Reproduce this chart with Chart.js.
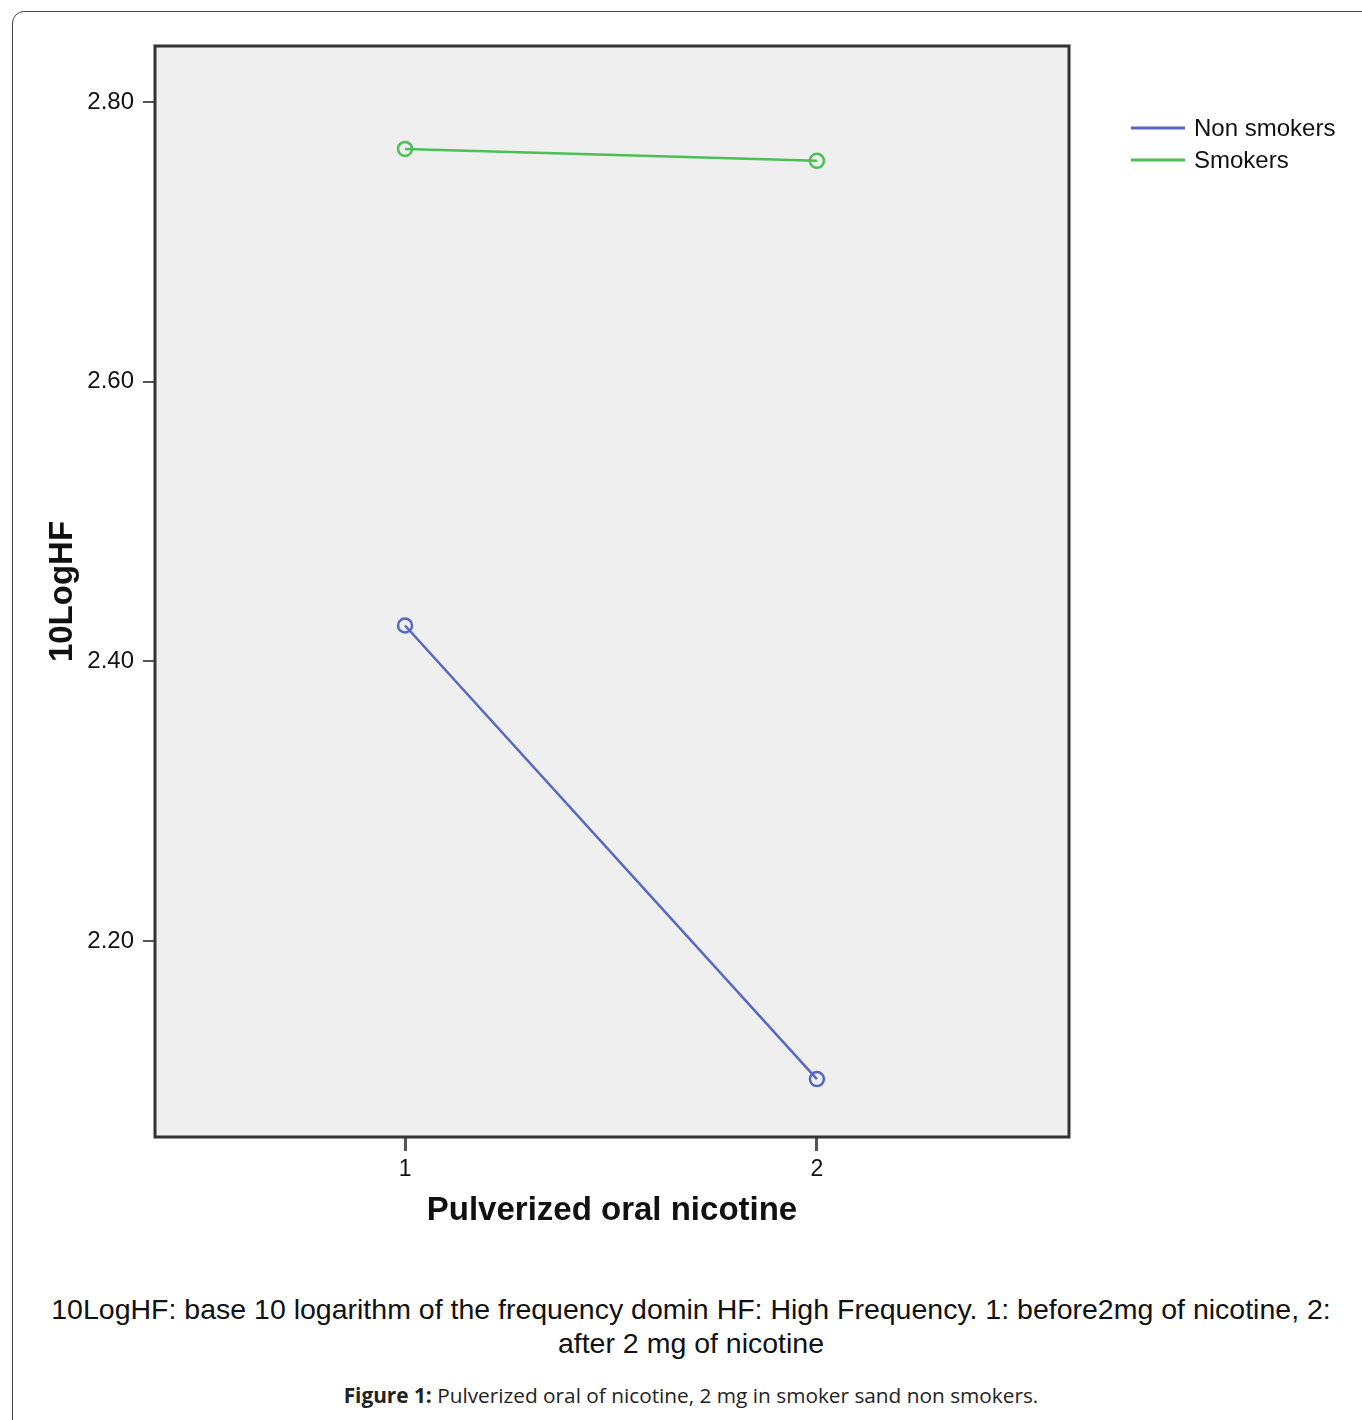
<!DOCTYPE html>
<html>
<head>
<meta charset="utf-8">
<script src="https://cdn.jsdelivr.net/npm/chart.js@4.4.1/dist/chart.umd.min.js"></script>
<style>
  html, body { margin: 0; padding: 0; background: #fff; }
  body { width: 1362px; height: 1420px; position: relative; overflow: hidden; }
  .frame {
    position: absolute; left: 12px; top: 11px; width: 1380px; height: 1440px;
    border: 1.5px solid #444; border-radius: 12px;
  }
  #chartWrap { position: absolute; left: 0; top: 0; width: 1362px; height: 1260px; }
  .note {
    position: absolute; left: 40px; width: 1302px; top: 1292px;
    font-family: "Liberation Sans", Arial, sans-serif; font-size: 28.5px; line-height: 34px;
    text-align: center; color: #111;
  }
  .caption {
    position: absolute; left: 20px; width: 1342px; top: 1381px;
    font-family: "Open Sans", sans-serif; font-size: 20.8px; text-align: center; color: #222;
  }
</style>
</head>
<body>
<div class="frame"></div>
<div id="chartWrap"><canvas id="myChart" width="1362" height="1260"></canvas></div>
<div class="note">10LogHF: base 10 logarithm of the frequency domin HF: High Frequency. 1: before2mg of nicotine, 2: after 2 mg of nicotine</div>
<div class="caption"><b>Figure 1:</b> Pulverized oral of nicotine, 2 mg in smoker sand non smokers.</div>

<script>
// data
const categories = [1, 2];
const nonSmokers = [2.4257, 2.1014];
const smokers = [2.7664, 2.7579];
const yTicks = [2.2, 2.4, 2.6, 2.8];
const seriesNames = ["Non smokers", "Smokers"];

const BLUE = "#5468c0";
const GREEN = "#4cbf55";
const FONT = "'Liberation Sans', Arial, sans-serif";

const toPoints = (vals) => vals.map((v, i) => ({ x: categories[i], y: v }));

// grey plot background + dark frame
const plotFrame = {
  id: "plotFrame",
  beforeDatasetsDraw(chart) {
    const { ctx, chartArea: a } = chart;
    ctx.save();
    ctx.fillStyle = "#efefef";
    ctx.fillRect(a.left, a.top, a.right - a.left, a.bottom - a.top);
    ctx.strokeStyle = "#333";
    ctx.lineWidth = 3;
    ctx.strokeRect(a.left, a.top, a.right - a.left, a.bottom - a.top);
    ctx.restore();
  },
};

// legend on the right, SPSS style
const sideLegend = {
  id: "sideLegend",
  afterDraw(chart) {
    const { ctx, chartArea: a } = chart;
    ctx.save();
    chart.data.datasets.forEach((ds, i) => {
      const y = a.top + 82 + i * 32;
      ctx.strokeStyle = ds.borderColor;
      ctx.lineWidth = 3;
      ctx.beginPath();
      ctx.moveTo(a.right + 62, y);
      ctx.lineTo(a.right + 116, y);
      ctx.stroke();
      ctx.fillStyle = "#111";
      ctx.font = "24px " + FONT;
      ctx.textBaseline = "middle";
      ctx.textAlign = "left";
      ctx.fillText(ds.label, a.right + 125, y + 1);
    });
    ctx.restore();
  },
};

new Chart(document.getElementById("myChart").getContext("2d"), {
  type: "line",
  data: {
    datasets: [
      {
        label: seriesNames[0],
        data: toPoints(nonSmokers),
        borderColor: BLUE,
        borderWidth: 2.5,
        pointRadius: 7,
        pointBorderWidth: 2.5,
        pointBackgroundColor: "rgba(0,0,0,0)",
        pointBorderColor: BLUE,
      },
      {
        label: seriesNames[1],
        data: toPoints(smokers),
        borderColor: GREEN,
        borderWidth: 2.5,
        pointRadius: 7,
        pointBorderWidth: 2.5,
        pointBackgroundColor: "rgba(0,0,0,0)",
        pointBorderColor: GREEN,
      },
    ],
  },
  options: {
    responsive: false,
    animation: false,
    layout: { padding: { left: 0, top: 46, right: 293, bottom: 23 } },
    plugins: { legend: { display: false }, tooltip: { enabled: false } },
    scales: {
      x: {
        type: "linear",
        min: 0.393,
        max: 2.612,
        afterBuildTicks: (s) => { s.ticks = categories.map((v) => ({ value: v })); },
        afterFit: (s) => { s.height = 100; },
        grid: { drawOnChartArea: false, tickLength: 14, color: "#555", lineWidth: 3 },
        border: { display: false },
        ticks: { color: "#111", font: { size: 23, family: FONT }, padding: 5 },
        title: {
          display: true,
          text: "Pulverized oral nicotine",
          color: "#111",
          font: { size: 33, weight: "bold", family: FONT },
          padding: { bottom: 6 },
        },
      },
      y: {
        min: 2.06,
        max: 2.84,
        afterBuildTicks: (s) => { s.ticks = yTicks.map((v) => ({ value: v })); },
        afterFit: (s) => { s.width = 155; },
        grid: { drawOnChartArea: false, tickLength: 12, color: "#555", lineWidth: 2 },
        border: { display: false },
        ticks: {
          color: "#111",
          font: { size: 24, family: FONT },
          padding: 9,
          callback: (v) => Number(v).toFixed(2),
        },
        title: {
          display: true,
          text: "10LogHF",
          color: "#111",
          font: { size: 33, weight: "bold", family: FONT },
          padding: { top: 43 },
        },
      },
    },
  },
  plugins: [plotFrame, sideLegend],
});
</script>
</body>
</html>
